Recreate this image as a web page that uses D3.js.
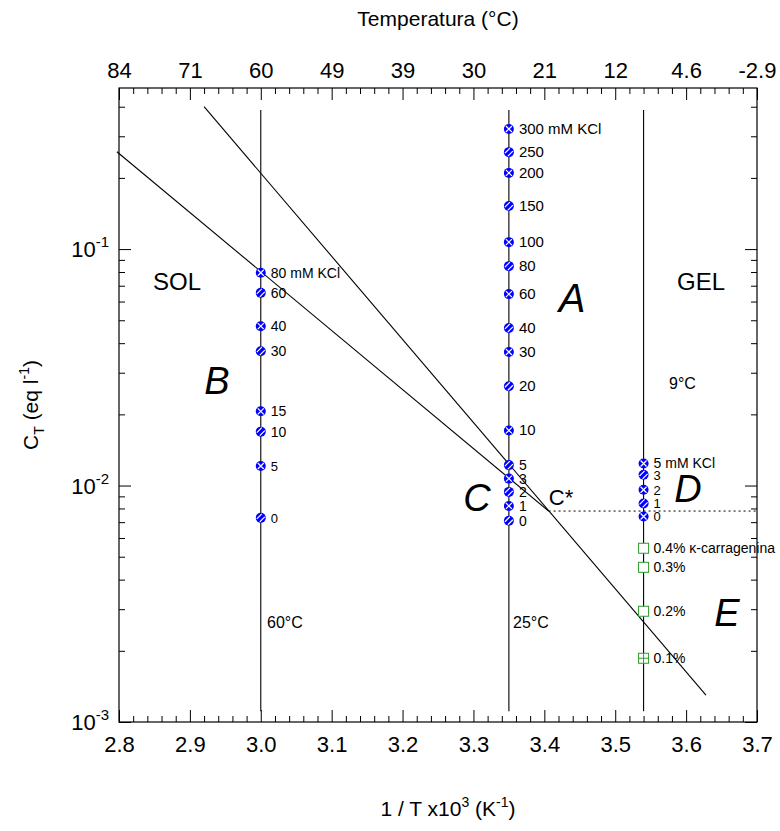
<!DOCTYPE html>
<html>
<head>
<meta charset="utf-8">
<script src="https://cdn.jsdelivr.net/npm/d3@7"></script>
<style>
  body { margin: 0; background: #fff; }
  svg text { font-family: "Liberation Sans", Arial, sans-serif; fill: #000; }
</style>
</head>
<body>
<svg id="chart" width="780" height="831"></svg>
<script>
// ---- data ----
var xMajor = [2.8, 2.9, 3.0, 3.1, 3.2, 3.3, 3.4, 3.5, 3.6, 3.7];
var tempLabels = ["84", "71", "60", "49", "39", "30", "21", "12", "4.6", "-2.9"];
var yMajor = [0.001, 0.01, 0.1];
var yExp = ["-3", "-2", "-1"];

// 60 °C isotherm (1/T = 3.00)
var kcl60 = [80, 60, 40, 30, 15, 10, 5, 0];
var ct60 = [0.0794, 0.0653, 0.0472, 0.0370, 0.0206, 0.0169, 0.0121, 0.0073];
// 25 °C isotherm (1/T = 3.35)
var kcl25 = [300, 250, 200, 150, 100, 80, 60, 40, 30, 20, 10, 5, 3, 2, 1, 0];
var ct25 = [0.322, 0.257, 0.210, 0.152, 0.107, 0.0847, 0.0645, 0.0464, 0.0367,
            0.0263, 0.0171, 0.0122, 0.0107, 0.0094, 0.0082, 0.0071];
// 9 °C isotherm (1/T = 3.54)
var kcl9 = [5, 3, 2, 1, 0];
var ct9 = [0.0124, 0.0111, 0.0096, 0.0084, 0.0074];
// kappa-carrageenan alone at 9 °C
var carr = ["0.4%", "0.3%", "0.2%", "0.1%"];
var ctCarr = [0.00543, 0.00451, 0.00294, 0.00186];

var isoX = [3.0, 3.35, 3.54];
var isoRange = [0.00111, 0.387];
// coil-helix transition lines
var lineSteep = [[2.920, 0.400], [3.628, 0.0013]];
var lineShallow = [[2.797, 0.258], [3.406, 0.0078]];
var cStar = [3.406, 0.0078];

// ---- layout ----
var svg = d3.select("#chart");
var mLeft = 119, mRight = 757, mTop = 88, mBottom = 722;

var x = d3.scaleLinear().domain([2.8, 3.7]).range([mLeft, mRight]);
var y = d3.scaleLog().domain([0.001, 0.48]).range([mBottom, mTop]);

var xMinor = d3.range(2.8, 3.7001, 0.02).filter(function (v) {
    return Math.abs(v * 10 - Math.round(v * 10)) > 1e-6;
});
var yMinor = [];
[0.001, 0.01, 0.1].forEach(function (d) {
    for (var k = 2; k <= 9; k++) {
        if (d * k < 0.48) yMinor.push(d * k);
    }
});

function cleanAxis(g) {
    g.select(".domain").remove();
    g.selectAll("line").attr("stroke", "#000").attr("stroke-width", 1);
}

// bottom axis
svg.append("g").attr("transform", "translate(0," + mBottom + ")")
    .call(d3.axisBottom(x).tickValues(xMajor).tickSizeInner(-12).tickSizeOuter(0)
        .tickPadding(14).tickFormat(d3.format(".1f")))
    .call(cleanAxis)
    .selectAll("text").attr("font-size", 22).attr("dy", "0.71em");
svg.append("g").attr("transform", "translate(0," + mBottom + ")")
    .call(d3.axisBottom(x).tickValues(xMinor).tickSizeInner(-6).tickSizeOuter(0).tickFormat(""))
    .call(cleanAxis);

// top axis (temperature)
svg.append("g").attr("transform", "translate(0," + mTop + ")")
    .call(d3.axisTop(x).tickValues(xMajor).tickSizeInner(-12).tickSizeOuter(0)
        .tickPadding(10).tickFormat(function (d, i) { return tempLabels[i]; }))
    .call(cleanAxis)
    .selectAll("text").attr("font-size", 22);
svg.append("g").attr("transform", "translate(0," + mTop + ")")
    .call(d3.axisTop(x).tickValues(xMinor).tickSizeInner(-6).tickSizeOuter(0).tickFormat(""))
    .call(cleanAxis);

// left / right axes
[[mLeft, d3.axisLeft], [mRight, d3.axisRight]].forEach(function (a) {
    svg.append("g").attr("transform", "translate(" + a[0] + ",0)")
        .call(a[1](y).tickValues(yMajor).tickSizeInner(-12).tickSizeOuter(0).tickFormat(""))
        .call(cleanAxis);
    svg.append("g").attr("transform", "translate(" + a[0] + ",0)")
        .call(a[1](y).tickValues(yMinor).tickSizeInner(-6).tickSizeOuter(0).tickFormat(""))
        .call(cleanAxis);
});

var yLab = svg.append("g").selectAll("text").data(yMajor).enter().append("text")
    .attr("x", mLeft - 10)
    .attr("y", function (d) { return y(d) + 8; })
    .attr("text-anchor", "end")
    .attr("font-size", 22);
yLab.append("tspan").text("10");
yLab.append("tspan").attr("dy", -10).attr("font-size", 15)
    .text(function (d, i) { return yExp[i]; });

// frame
svg.append("rect").attr("x", mLeft).attr("y", mTop)
    .attr("width", mRight - mLeft).attr("height", mBottom - mTop)
    .attr("fill", "none").attr("stroke", "#000").attr("stroke-width", 1.2);

// axis titles
svg.append("text").attr("x", (mLeft + mRight) / 2).attr("y", 26)
    .attr("text-anchor", "middle").attr("font-size", 21).text("Temperatura (°C)");
var xt = svg.append("text").attr("x", 448).attr("y", 816)
    .attr("text-anchor", "middle").attr("font-size", 21);
xt.append("tspan").text("1 / T x10");
xt.append("tspan").attr("dy", -9).attr("font-size", 14).text("3");
xt.append("tspan").attr("dy", 9).text(" (K");
xt.append("tspan").attr("dy", -9).attr("font-size", 14).text("-1");
xt.append("tspan").attr("dy", 9).text(")");

var yt = svg.append("text").attr("transform", "translate(38,405) rotate(-90)")
    .attr("text-anchor", "middle").attr("font-size", 21);
yt.append("tspan").text("C");
yt.append("tspan").attr("dy", 6).attr("font-size", 14).text("T");
yt.append("tspan").attr("dy", -6).text(" (eq l");
yt.append("tspan").attr("dy", -9).attr("font-size", 14).text("-1");
yt.append("tspan").attr("dy", 9).text(")");

// isotherm verticals
svg.append("g").selectAll("line").data(isoX).enter().append("line")
    .attr("x1", function (d) { return x(d); }).attr("x2", function (d) { return x(d); })
    .attr("y1", y(isoRange[1])).attr("y2", y(isoRange[0]))
    .attr("stroke", "#000").attr("stroke-width", 1.1);

// transition lines
var lineGen = d3.line().x(function (d) { return x(d[0]); }).y(function (d) { return y(d[1]); });
[lineSteep, lineShallow].forEach(function (pts) {
    svg.append("path").attr("d", lineGen(pts))
        .attr("fill", "none").attr("stroke", "#000").attr("stroke-width", 1.1);
});
svg.append("line")
    .attr("x1", x(cStar[0])).attr("x2", x(3.7))
    .attr("y1", y(cStar[1])).attr("y2", y(cStar[1]))
    .attr("stroke", "#000").attr("stroke-width", 1).attr("stroke-dasharray", "2,3");

// blue KCl markers
function bluePoints(xv, cts, labels, firstSuffix, size) {
    var g = svg.append("g");
    var pts = g.selectAll("g").data(cts).enter().append("g")
        .attr("transform", function (d) { return "translate(" + x(xv) + "," + y(d) + ")"; });
    pts.append("circle").attr("r", 5).attr("fill", "#0000ff");
    pts.append("path")
        .attr("d", function (d, i) {
            return i % 2 === 0 ? "M-3,-3L3,3M-3,3L3,-3" : "M-4,1L1,-4M-1,4L4,-1";
        })
        .attr("stroke", "#fff").attr("stroke-width", 1.2);
    g.selectAll("text").data(cts).enter().append("text")
        .attr("x", x(xv) + 10)
        .attr("y", function (d) { return y(d) + 5; })
        .attr("font-size", function (d, i) {
            // the low-salt points sit close together
            return labels[i] <= 5 && i > 0 ? size - 1 : size;
        })
        .text(function (d, i) { return labels[i] + (i === 0 ? firstSuffix : ""); });
}
bluePoints(3.0, ct60, kcl60, " mM KCl", 14);
bluePoints(3.35, ct25, kcl25, " mM KCl", 15);
bluePoints(3.54, ct9, kcl9, " mM KCl", 14);

// green carrageenan squares
var cg = svg.append("g");
var sq = cg.selectAll("g").data(ctCarr).enter().append("g")
    .attr("transform", function (d) { return "translate(" + x(3.54) + "," + y(d) + ")"; });
sq.append("rect").attr("x", -5).attr("y", -5).attr("width", 10).attr("height", 10)
    .attr("fill", "#fff").attr("stroke", "#2e9a2e").attr("stroke-width", 1);
sq.filter(function (d, i) { return i === carr.length - 1; }).append("path")
    .attr("d", "M-5,0L5,0M0,-5L0,5").attr("stroke", "#2e9a2e").attr("stroke-width", 1);
cg.selectAll("text").data(ctCarr).enter().append("text")
    .attr("x", x(3.54) + 10)
    .attr("y", function (d) { return y(d) + 5; })
    .attr("font-size", 14)
    .text(function (d, i) { return carr[i] + (i === 0 ? " κ-carragenina" : ""); });

// region annotations
function note(px, py, txt, size, italic, anchor) {
    svg.append("text").attr("x", px).attr("y", py)
        .attr("font-size", size).attr("font-style", italic ? "italic" : "normal")
        .attr("text-anchor", anchor || "middle").text(txt);
}
note(177, 290, "SOL", 24);
note(701, 290, "GEL", 24);
note(572, 312, "A", 40, true);
note(217, 394, "B", 38, true);
note(477, 511, "C", 38, true);
note(688, 502, "D", 38, true);
note(727, 626, "E", 38, true);
note(561, 505, "C*", 22);
note(669, 389, "9°C", 16, false, "start");
note(267, 628, "60°C", 16, false, "start");
note(513, 628, "25°C", 16, false, "start");
</script>
</body>
</html>
